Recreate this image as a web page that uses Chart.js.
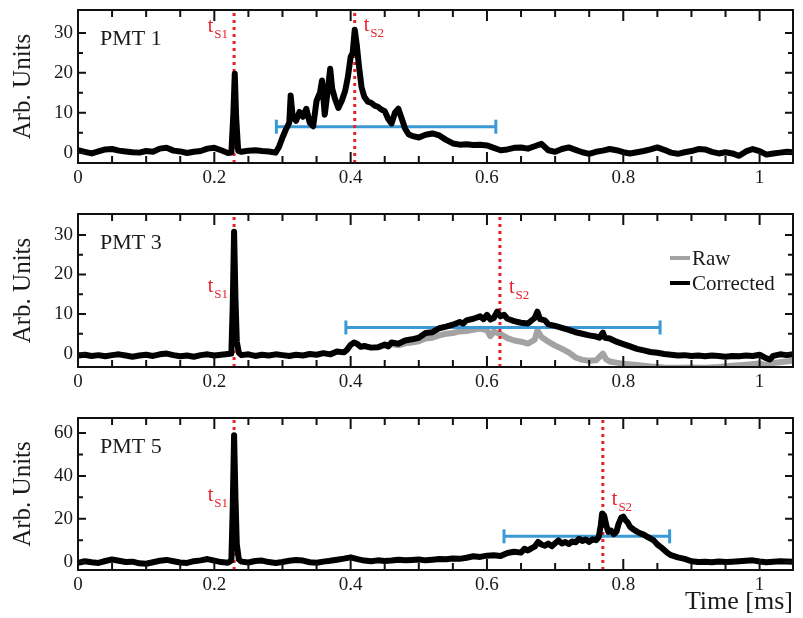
<!DOCTYPE html>
<html>
<head>
<meta charset="utf-8">
<script src="https://cdn.jsdelivr.net/npm/chart.js@4.4.1/dist/chart.umd.min.js"></script>
<style>
    html, body { margin: 0; padding: 0; background: #fff; }
    body { width: 803px; height: 618px; position: relative; overflow: hidden; }
    canvas { position: absolute; left: 0; }
</style>
</head>
<body>
<canvas id="pmt1Chart" width="803" height="196" style="top:0px"></canvas>
<canvas id="pmt3Chart" width="803" height="205" style="top:198px"></canvas>
<canvas id="pmt5Chart" width="803" height="213" style="top:405px"></canvas>
<script>
// Eixo de tempo (ms)
const xTickValues = [0, 0.2, 0.4, 0.6, 0.8, 1];
const xTickLabels = ['0', '0.2', '0.4', '0.6', '0.8', '1'];
const xMinorTicks = [0.05, 0.1, 0.15, 0.25, 0.3, 0.35, 0.45, 0.5, 0.55, 0.65, 0.7, 0.75, 0.85, 0.9, 0.95, 1.05];
const X_MAX = 1.049;

// PMT 1
const pmt1Time = [
    0, 0.01, 0.02, 0.03, 0.04, 0.05, 0.06, 0.07, 0.08, 0.09, 0.10, 0.11, 0.12, 0.13, 0.14, 0.15, 0.16, 0.17, 0.18, 0.19,
    0.20, 0.21, 0.22, 0.225, 0.228, 0.230, 0.232, 0.235, 0.24, 0.25, 0.26, 0.27, 0.28, 0.29, 0.295, 0.30, 0.305, 0.31,
    0.312, 0.315, 0.32, 0.325, 0.33, 0.335, 0.34, 0.345, 0.35, 0.355, 0.358, 0.362, 0.366, 0.37, 0.373, 0.377, 0.382,
    0.387, 0.392, 0.396, 0.40, 0.403, 0.406, 0.409, 0.412, 0.416, 0.42, 0.425, 0.43, 0.435, 0.44, 0.445, 0.45, 0.455,
    0.46, 0.465, 0.47, 0.475, 0.48, 0.485, 0.49, 0.50, 0.51, 0.52, 0.53, 0.54, 0.55, 0.56, 0.57, 0.58, 0.59, 0.60, 0.61,
    0.62, 0.63, 0.64, 0.65, 0.66, 0.67, 0.68, 0.69, 0.70, 0.71, 0.72, 0.73, 0.74, 0.75, 0.76, 0.77, 0.78, 0.79, 0.80,
    0.81, 0.82, 0.83, 0.84, 0.85, 0.86, 0.87, 0.88, 0.89, 0.90, 0.91, 0.92, 0.93, 0.94, 0.95, 0.96, 0.97, 0.98, 0.99,
    1.00, 1.01, 1.02, 1.03, 1.04, 1.049
];
const pmt1Signal = [
    0.6, 0.2, -0.2, 0.3, 0.8, 0.9, 0.5, 0.3, 0.1, 0.0, 0.4, 0.2, 1.0, 1.2, 0.5, 0.3, -0.1, 0.2, 0.4, 1.0,
    1.2, 0.6, -0.1, 0.0, 10, 19.8, 9, 0.5, 0.2, 0.5, 0.6, 0.4, 0.3, 0.0, 1.5, 3.8, 5.8, 7.5,
    14.3, 9, 8, 10.2, 9, 11, 7.5, 6.6, 13, 15, 18.1, 9.5, 15, 21, 16, 13.5, 11.2,
    13, 15.5, 19, 24, 25, 30.8, 27, 22, 16.4, 14, 12.8, 12.5, 11.8, 11.5, 10.8, 10.4, 8.5,
    7.3, 10, 11, 8.5, 6, 4.6, 4.2, 3.8, 4.5, 4.8, 4.3, 3.2, 2.3, 2.0, 2.1, 1.9, 2.0, 1.8, 1.2,
    0.6, 0.8, 1.2, 1.3, 1.0, 1.6, 2.2, 0.6, 0.2, 0.9, 1.3, 0.7, 0.1, -0.3, 0.2, 0.5, 0.9, 0.6, 0.1,
    -0.2, 0.1, 0.4, 0.8, 1.3, 0.7, 0.0, -0.3, 0.1, 0.4, 0.9, 0.8, 0.2, -0.2, 0.1, -0.2, -0.8, 0.3, 0.9,
    0.4, -0.5, -0.2, 0.0, 0.2, 0.1
];

// PMT 3 (corrigido)
const pmt3Time = [
    0, 0.01, 0.02, 0.03, 0.04, 0.05, 0.06, 0.07, 0.08, 0.09, 0.10, 0.11, 0.12, 0.13, 0.14, 0.15, 0.16, 0.17, 0.18, 0.19,
    0.20, 0.21, 0.22, 0.225, 0.227, 0.229, 0.231, 0.233, 0.236, 0.24, 0.25, 0.26, 0.27, 0.28, 0.29, 0.30, 0.31, 0.32,
    0.33, 0.34, 0.35, 0.36, 0.37, 0.38, 0.39, 0.395, 0.40, 0.405, 0.41, 0.415, 0.42, 0.43, 0.44, 0.45, 0.455, 0.46, 0.47,
    0.48, 0.49, 0.50, 0.51, 0.52, 0.53, 0.54, 0.55, 0.56, 0.565, 0.57, 0.58, 0.59, 0.595, 0.60, 0.605, 0.61, 0.615,
    0.62, 0.625, 0.63, 0.64, 0.65, 0.66, 0.665, 0.67, 0.674, 0.678, 0.685, 0.69, 0.70, 0.71, 0.72, 0.73, 0.74, 0.75,
    0.76, 0.765, 0.77, 0.773, 0.78, 0.79, 0.80, 0.81, 0.82, 0.83, 0.84, 0.85, 0.86, 0.87, 0.88, 0.89, 0.90, 0.91, 0.92,
    0.93, 0.94, 0.95, 0.96, 0.97, 0.98, 0.99, 1.00, 1.01, 1.015, 1.02, 1.03, 1.04, 1.049
];
const pmt3Corrected = [
    -0.5, -0.3, -0.6, -0.4, -0.7, -0.4, -0.2, -0.5, -0.8, -0.5, -0.3, -0.6, -0.2, 0.0, -0.4, -0.7, -0.5, -0.8, -0.4, -0.2,
    -0.5, -0.3, -0.1, 0.0, 12, 30.8, 14, 3, 0.2, -0.4, -0.2, -0.6, -0.3, -0.5, -0.2, -0.4, -0.6, -0.3,
    -0.5, -0.1, -0.3, 0.1, -0.2, 0.5, 0.3, 1.0, 2.2, 2.8, 2.4, 1.7, 1.9, 1.5, 1.6, 2.3, 1.8, 2.8, 2.5,
    3.3, 3.6, 4.0, 5.2, 5.4, 6.4, 6.8, 7.3, 8.0, 7.6, 8.4, 8.8, 9.4, 8.7, 9.8, 8.6, 9.0, 10.6,
    9.4, 9.8, 8.8, 8.2, 7.8, 7.6, 8.3, 9.0, 10.6, 8.7, 8.4, 7.4, 7.0, 6.5, 6.0, 5.4, 5.0, 4.6,
    4.3, 4.0, 5.3, 4.0, 3.8, 3.0, 2.4, 1.8, 1.2, 0.8, 0.4, 0.2, -0.1, -0.3, -0.5, -0.4, -0.6, -0.5, -0.7,
    -0.5, -0.6, -0.8, -0.6, -0.7, -0.5, -0.6, -0.3, -1.2, -1.5, -0.6, -0.2, -0.4, -0.2
];

// PMT 3 (bruto) - antes de 0.44 ms fica escondido sob a curva corrigida
const pmt3RawTime = [
    0.44, 0.45, 0.46, 0.47, 0.48, 0.49, 0.50, 0.51, 0.52, 0.53, 0.54,
    0.55, 0.56, 0.57, 0.58, 0.59, 0.60, 0.605, 0.61, 0.62, 0.63, 0.64, 0.65, 0.66, 0.67, 0.674, 0.68, 0.69, 0.70, 0.71,
    0.72, 0.73, 0.74, 0.75, 0.76, 0.77, 0.775, 0.78, 0.79, 0.80, 0.82, 0.84, 0.86, 0.88, 0.90, 0.92, 0.94, 0.96, 0.98,
    1.00, 1.01, 1.02, 1.049
];
const pmt3Raw = [
    1.6, 2.0, 2.4, 2.1, 2.6, 2.8, 3.1, 3.8, 4.0, 4.6, 5.0,
    5.2, 5.6, 5.7, 6.0, 6.3, 5.9, 4.4, 5.6, 4.9, 3.9, 3.3, 3.0, 2.5, 3.5, 5.9, 4.2, 3.0, 2.0, 1.2,
    0.3, -1.0, -1.6, -1.8, -1.7, 0.0, -1.5, -2.0, -2.3, -2.6, -2.9, -3.3, -3.5, -3.6, -3.5, -3.6, -3.4, -3.1, -2.8,
    -2.5, -3.0, -2.4, -1.8
];

// PMT 5
const pmt5Time = [
    0, 0.01, 0.02, 0.03, 0.04, 0.05, 0.06, 0.07, 0.08, 0.09, 0.10, 0.11, 0.12, 0.13, 0.14, 0.15, 0.16, 0.17, 0.18, 0.19,
    0.20, 0.21, 0.22, 0.225, 0.227, 0.229, 0.231, 0.233, 0.236, 0.24, 0.25, 0.26, 0.27, 0.28, 0.29, 0.30, 0.31, 0.32,
    0.33, 0.34, 0.35, 0.36, 0.37, 0.38, 0.39, 0.40, 0.41, 0.42, 0.43, 0.44, 0.45, 0.46, 0.47, 0.48, 0.49, 0.50, 0.51,
    0.52, 0.53, 0.54, 0.55, 0.56, 0.57, 0.58, 0.59, 0.60, 0.61, 0.62, 0.63, 0.64, 0.65, 0.655, 0.66, 0.665, 0.67,
    0.675, 0.68, 0.685, 0.69, 0.695, 0.70, 0.705, 0.71, 0.715, 0.72, 0.725, 0.73, 0.735, 0.74, 0.745, 0.75, 0.755,
    0.76, 0.764, 0.767, 0.769, 0.772, 0.775, 0.778, 0.782, 0.786, 0.79, 0.793, 0.797, 0.80, 0.803, 0.807, 0.81, 0.815,
    0.82, 0.825, 0.83, 0.835, 0.84, 0.845, 0.85, 0.855, 0.86, 0.865, 0.87, 0.88, 0.89, 0.90, 0.91, 0.92, 0.93, 0.94,
    0.95, 0.96, 0.97, 0.98, 0.99, 1.00, 1.01, 1.02, 1.03, 1.049
];
const pmt5Signal = [
    -0.5, 0.2, -0.3, -0.6, 0.3, 1.0, 0.4, -0.2, 0.0, -0.8, -1.0, -0.3, 0.4, 0.8, 0.2, -0.4, -0.6, 0.2, 0.6, 1.2,
    0.5, -0.2, -0.5, 0.5, 25, 59, 30, 8, 1.0, 0.0, -0.4, 0.3, 0.5, -0.2, -0.6, -0.2, 0.4, 0.8,
    0.5, -0.3, -0.5, 0.0, 0.4, 0.9, 1.4, 2.0, 1.2, 0.5, 0.2, 0.6, 0.3, 0.5, 0.9, 0.6, 0.8, 1.0, 0.6,
    0.9, 1.2, 1.1, 1.5, 1.3, 1.8, 2.5, 2.2, 2.8, 3.0, 2.6, 4.0, 4.6, 4.2, 6.0, 5.2, 6.2, 7.0,
    9.2, 8.0, 7.4, 8.4, 7.2, 8.6, 9.9, 8.5, 9.2, 8.2, 9.4, 9.0, 10.6, 9.6, 10.3, 9.2, 10.4,
    10.0, 11.5, 17, 22.5, 21.5, 17, 13.9, 14.5, 12.8, 14.0, 17.5, 20.5, 21.0, 19.5, 18.0, 16.2, 15.0,
    14.0, 13.2, 12.6, 11.6, 10.8, 9.8, 8.0, 6.8, 5.4, 4.0, 3.0, 2.0, 1.3, 0.2, -0.2, 0.0, -0.3, 0.1,
    -0.2, 0.0, 0.2, 0.4, 0.6, 0.1, -0.3, 0.0, 0.2, -0.1
];

// Marcadores t_S1, t_S2 e janela (barra azul)
const tS1Values = [0.229, 0.229, 0.229];
const tS2Values = [0.406, 0.619, 0.77];
const windowStart = [0.291, 0.393, 0.625];
const windowEnd = [0.613, 0.854, 0.868];
const windowLevel = [6.5, 6.6, 11.8];

const legendLabels = ['Raw', 'Corrected'];

const SERIF = '"Liberation Serif", "DejaVu Serif", serif';
const RED = '#e8202a';
const BLUE = '#3b9ad6';
const GRAY = '#a3a3a3';
const PLOT_RIGHT = 800;

function toPoints(xs, ys) {
    return xs.map((t, i) => ({ x: t, y: ys[i] }));
}

// Plugin para moldura, marcas internas e textos
const decorPlugin = {
    id: 'decor',
    afterDraw(chart) {
        const cfg = chart.options.plugins.decor;
        const { ctx, chartArea: a } = chart;
        const xs = chart.scales.x;
        const ys = chart.scales.y;
        ctx.save();

        // marcas dos eixos
        ctx.strokeStyle = '#111';
        ctx.lineWidth = 2;
        ctx.beginPath();
        const xTick = (v, len) => {
            const px = xs.getPixelForValue(v);
            if (px < a.left || px > a.right) return;
            ctx.moveTo(px, a.bottom); ctx.lineTo(px, a.bottom - len);
            ctx.moveTo(px, a.top); ctx.lineTo(px, a.top + len);
        };
        const yTick = (v, len) => {
            const py = ys.getPixelForValue(v);
            if (py < a.top || py > a.bottom) return;
            ctx.moveTo(a.left, py); ctx.lineTo(a.left + len, py);
            ctx.moveTo(a.right, py); ctx.lineTo(a.right - len, py);
        };
        xTickValues.forEach(v => xTick(v, 11));
        xMinorTicks.forEach(v => xTick(v, 7));
        cfg.yTicks.forEach(v => yTick(v, 8));
        cfg.yMinor.forEach(v => yTick(v, 5));
        ctx.stroke();

        ctx.lineWidth = 2;
        ctx.strokeRect(a.left, a.top, a.width, a.height);

        // nome do PMT
        ctx.fillStyle = '#1a1a1a';
        ctx.font = '22px ' + SERIF;
        ctx.textAlign = 'left';
        ctx.textBaseline = 'alphabetic';
        ctx.fillText(cfg.name, a.left + 22, a.top + 35);

        // t_S1 e t_S2
        const drawT = (sub, xPx, yPx, alignRight) => {
            ctx.fillStyle = RED;
            ctx.font = '20px ' + SERIF;
            const wT = ctx.measureText('t').width;
            ctx.font = '13px ' + SERIF;
            const wS = ctx.measureText(sub).width;
            const x0 = alignRight ? xPx - wT - wS - 1 : xPx;
            ctx.font = '20px ' + SERIF;
            ctx.fillText('t', x0, yPx);
            ctx.font = '13px ' + SERIF;
            ctx.fillText(sub, x0 + wT + 1, yPx + 6);
        };
        drawT('S1', xs.getPixelForValue(cfg.tS1) - 6, a.top + cfg.s1Dy, true);
        drawT('S2', xs.getPixelForValue(cfg.tS2) + 9, a.top + cfg.s2Dy, false);

        // legenda (somente PMT 3)
        if (cfg.legend) {
            const lx = 670, items = [[GRAY, 44], ['#000', 69]];
            items.forEach((it, i) => {
                const yy = a.top + it[1];
                ctx.strokeStyle = it[0];
                ctx.lineWidth = 4;
                ctx.beginPath();
                ctx.moveTo(lx, yy); ctx.lineTo(lx + 20, yy);
                ctx.stroke();
                ctx.fillStyle = '#1a1a1a';
                ctx.font = '21px ' + SERIF;
                ctx.fillText(legendLabels[i], lx + 22, yy + 7);
            });
        }
        ctx.restore();
    }
};

function buildPanel(canvasId, p) {
    const datasets = [
        {
            label: 'Corrected',
            data: toPoints(p.time, p.signal),
            borderColor: '#000',
            borderWidth: 6,
            borderJoinStyle: 'round',
            pointRadius: 0,
            order: 0
        },
        {
            label: 't_S1',
            data: [{ x: p.tS1, y: p.yMin }, { x: p.tS1, y: p.yMax }],
            borderColor: RED,
            borderWidth: 3,
            borderDash: [3, 4],
            pointRadius: 0,
            order: 1
        },
        {
            label: 't_S2',
            data: [{ x: p.tS2, y: p.yMin }, { x: p.tS2, y: p.yMax }],
            borderColor: RED,
            borderWidth: 3,
            borderDash: [3, 4],
            pointRadius: 0,
            order: 1
        },
        {
            label: 'window',
            data: [{ x: p.winStart, y: p.winLevel }, { x: p.winEnd, y: p.winLevel }],
            borderColor: BLUE,
            borderWidth: 3,
            pointStyle: 'line',
            pointRotation: 90,
            pointRadius: 7,
            pointBorderWidth: 3,
            pointBorderColor: BLUE,
            order: 2
        }
    ];
    if (p.rawTime) {
        datasets.push({
            label: 'Raw',
            data: toPoints(p.rawTime, p.raw),
            borderColor: GRAY,
            borderWidth: 6,
            borderJoinStyle: 'round',
            pointRadius: 0,
            order: 3
        });
    }

    const chart = new Chart(document.getElementById(canvasId), {
        type: 'line',
        data: { datasets: datasets },
        options: {
            responsive: false,
            animation: false,
            devicePixelRatio: 1,
            layout: { padding: { top: p.padTop, right: 3, left: 0, bottom: 0 } },
            plugins: {
                legend: { display: false },
                tooltip: { enabled: false },
                decor: {
                    name: p.name, yTicks: p.yTicks, yMinor: p.yMinor,
                    tS1: p.tS1, tS2: p.tS2, s1Dy: p.s1Dy, s2Dy: p.s2Dy, legend: !!p.rawTime
                }
            },
            scales: {
                x: {
                    type: 'linear',
                    min: 0,
                    max: X_MAX,
                    grid: { display: false, drawTicks: false },
                    border: { display: false },
                    afterBuildTicks: (scale) => { scale.ticks = xTickValues.map(v => ({ value: v })); },
                    afterFit: (scale) => {
                        scale.height = p.axisHeight;
                        scale.paddingLeft = 0;
                        scale.paddingRight = 0;
                    },
                    ticks: {
                        autoSkip: false,
                        maxRotation: 0,
                        padding: 4,
                        color: '#1a1a1a',
                        font: { family: SERIF, size: 19 },
                        callback: (v, i) => xTickLabels[i]
                    },
                    title: {
                        display: !!p.xTitle,
                        text: p.xTitle || '',
                        align: 'end',
                        color: '#1a1a1a',
                        font: { family: SERIF, size: 26 },
                        padding: { top: 0, bottom: 0 }
                    }
                },
                y: {
                    type: 'linear',
                    min: p.yMin,
                    max: p.yMax,
                    grid: { display: false, drawTicks: false },
                    border: { display: false },
                    afterBuildTicks: (scale) => { scale.ticks = p.yTicks.map(v => ({ value: v })); },
                    afterFit: (scale) => {
                        scale.width = 78;
                        scale.paddingTop = 0;
                        scale.paddingBottom = 0;
                    },
                    ticks: {
                        padding: 5,
                        color: '#1a1a1a',
                        font: { family: SERIF, size: 19 },
                        callback: (v) => String(v)
                    },
                    title: {
                        display: true,
                        text: 'Arb. Units',
                        color: '#1a1a1a',
                        font: { family: SERIF, size: 25 },
                        padding: { top: 8, bottom: 0 }
                    }
                }
            }
        },
        plugins: [decorPlugin]
    });

    // ajuste fino: a área do gráfico deve terminar em x = 800
    const diff = PLOT_RIGHT - chart.chartArea.right;
    if (Math.abs(diff) > 0.5) {
        chart.options.layout.padding.right -= diff;
        chart.update();
    }
    return chart;
}

buildPanel('pmt1Chart', {
    name: 'PMT 1', time: pmt1Time, signal: pmt1Signal,
    yMin: -2.6, yMax: 35.75, yTicks: [0, 10, 20, 30], yMinor: [5, 15, 25],
    tS1: tS1Values[0], tS2: tS2Values[0],
    winStart: windowStart[0], winEnd: windowEnd[0], winLevel: windowLevel[0],
    padTop: 10, axisHeight: 33, s1Dy: 22, s2Dy: 21
});

buildPanel('pmt3Chart', {
    name: 'PMT 3', time: pmt3Time, signal: pmt3Corrected,
    rawTime: pmt3RawTime, raw: pmt3Raw,
    yMin: -3.4, yMax: 35.3, yTicks: [0, 10, 20, 30], yMinor: [5, 15, 25],
    tS1: tS1Values[1], tS2: tS2Values[1],
    winStart: windowStart[1], winEnd: windowEnd[1], winLevel: windowLevel[1],
    padTop: 16, axisHeight: 36, s1Dy: 78, s2Dy: 79
});

buildPanel('pmt5Chart', {
    name: 'PMT 5', time: pmt5Time, signal: pmt5Signal,
    yMin: -3.9, yMax: 67, yTicks: [0, 20, 40, 60], yMinor: [10, 30, 50],
    tS1: tS1Values[2], tS2: tS2Values[2],
    winStart: windowStart[2], winEnd: windowEnd[2], winLevel: windowLevel[2],
    padTop: 13, axisHeight: 48, s1Dy: 83, s2Dy: 87, xTitle: 'Time [ms]'
});
</script>
</body>
</html>
